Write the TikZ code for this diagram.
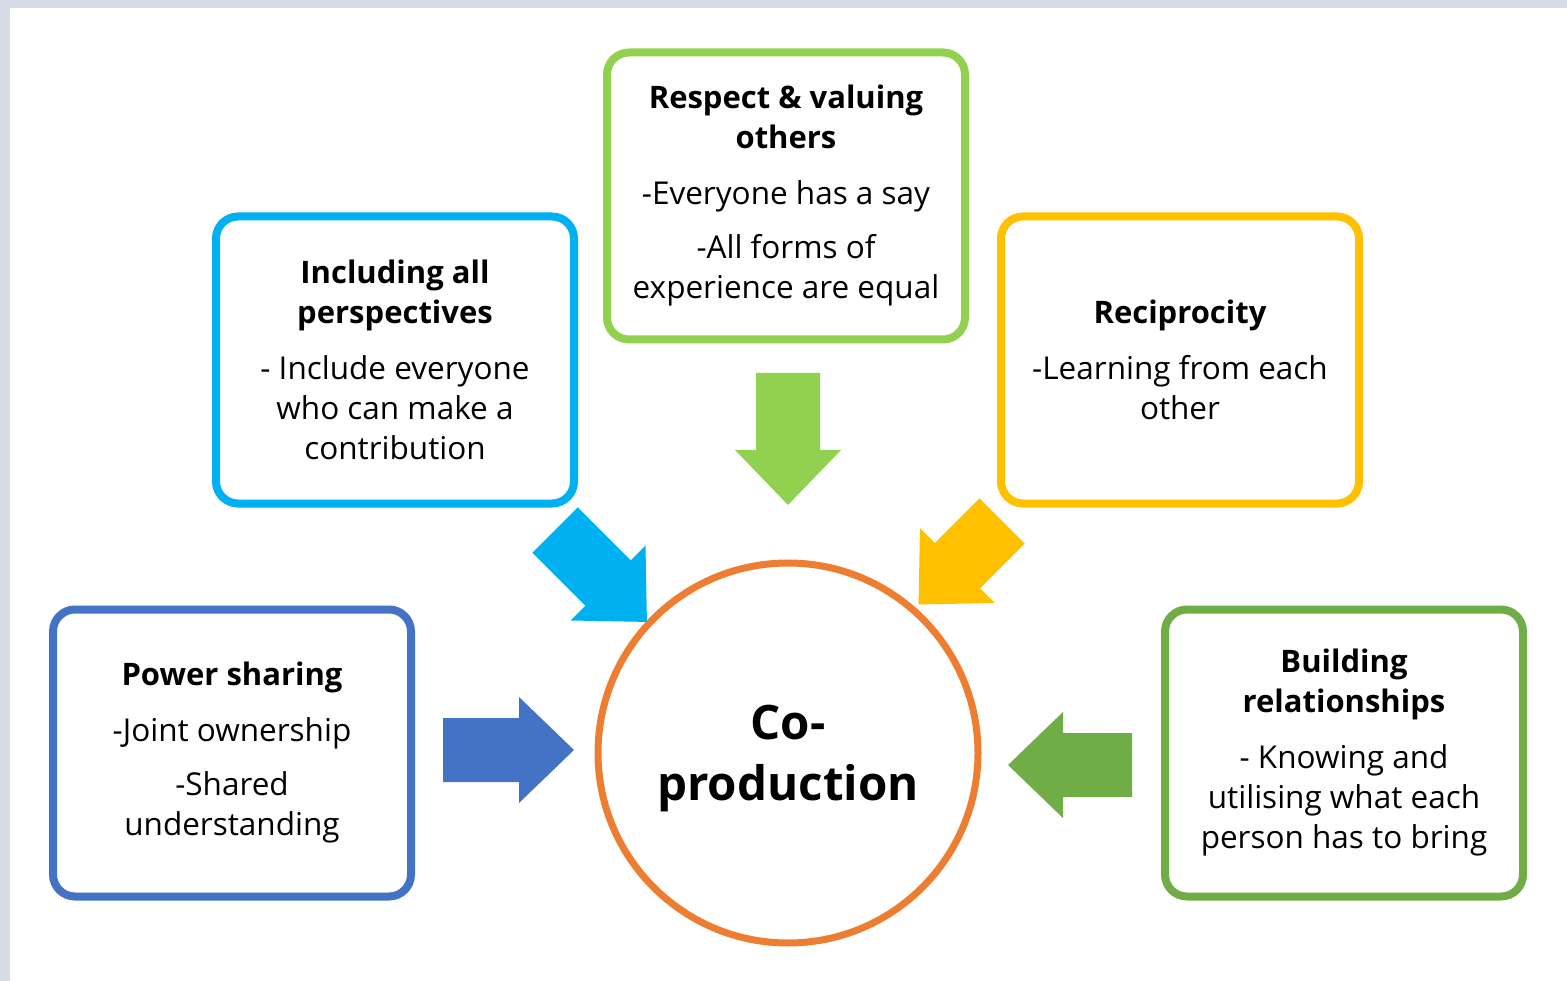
\documentclass[tikz,border=0pt]{standalone}
\usepackage{fontspec}
\setmainfont{Open Sans}
\usetikzlibrary{positioning}
\definecolor{skyblue}{HTML}{00B0F0}
\definecolor{limegreen}{HTML}{92D050}
\definecolor{goldyellow}{HTML}{FFC000}
\definecolor{steelblue}{HTML}{4472C4}
\definecolor{leafgreen}{HTML}{70AD47}
\definecolor{coorange}{HTML}{ED7D31}
\definecolor{framegray}{HTML}{D6DCE5}
\newcommand\headline[1]{{\bfseries\fontsize{31}{40}\selectfont #1}}
\tikzset{
  themebox/.style={draw=#1, line width=8pt, rounded corners=22pt,
    minimum width=358pt, minimum height=287pt, align=center,
    inner sep=0pt, font=\fontsize{31.5}{40}\selectfont},
  hub/.style={circle, draw=coorange, line width=7pt, minimum size=380pt,
    align=center, inner sep=0pt, font=\bfseries\fontsize{47.5}{61}\selectfont},
}

\begin{document}
\begin{tikzpicture}[x=1pt, y=-1pt]
        \useasboundingbox (0,0) rectangle (1567,981);
        \fill[framegray] (0,0) rectangle (1567,981);
        \fill[white] (10,8) rectangle (1567,981);
        % themes round the hub
        \node[themebox=skyblue] (inclusion) at (395,360)
            {\headline{Including all}\\\headline{perspectives}\\[16pt]- Include everyone\\who can make a\\contribution};
        \node[themebox=limegreen] (respect) at (786,196)
            {\headline{Respect \& valuing}\\\headline{others}\\[16pt]-Everyone has a say\\[14pt]-All forms of\\experience are equal};
        \node[themebox=goldyellow] (reciprocity) at (1180,360)
            {\headline{Reciprocity}\\[16pt]-Learning from each\\other};
        \node[themebox=steelblue] (power) at (232,753)
            {\headline{Power sharing}\\[16pt]-Joint ownership\\[14pt]-Shared\\understanding};
        \node[themebox=leafgreen] (relations) at (1344,753)
            {\headline{Building}\\\headline{relationships}\\[16pt]- Knowing and\\utilising what each\\person has to bring};
        \node[hub] (coprod) at (788,753) {\rule{0pt}{45pt}Co-\\production};
        % block arrows: colour / tail x / tail y / angle / length
        \foreach \col/\x/\y/\ang/\len in {limegreen/788/373/-90/132,
                skyblue/555/530/-45/130, goldyellow/1002/521/-135/118,
                steelblue/443/750/0/131, leafgreen/1132/765/180/124} {
            \fill[\col, shift={(\x,\y)}, rotate=\ang]
                (0,-32) -- (\len-55,-32) -- (\len-55,-53) -- (\len,0)
                -- (\len-55,53) -- (\len-55,32) -- (0,32) -- cycle;
        }
\end{tikzpicture}
\end{document}
